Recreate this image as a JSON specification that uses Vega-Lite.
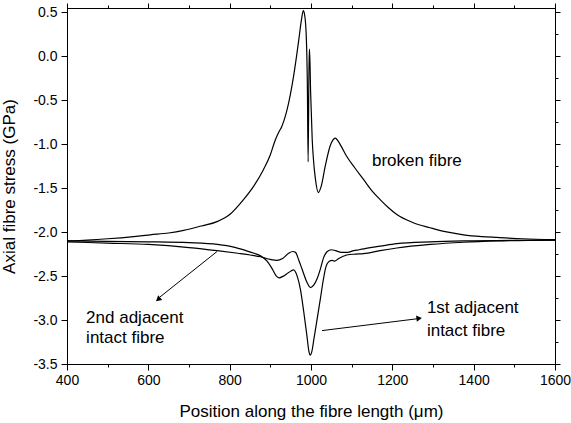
{
  "$schema": "https://vega.github.io/schema/vega-lite/v6.json",
  "autosize": {"type": "none"},
  "padding": {"left": 67, "top": 8, "right": 16, "bottom": 59},
  "width": 488,
  "height": 356,
  "background": "white",
  "config": {
    "font": "Liberation Sans",
    "view": {"stroke": "black", "strokeWidth": 1},
    "axis": {
      "grid": false,
      "domainColor": "black",
      "tickColor": "black",
      "labelColor": "black",
      "titleColor": "black",
      "labelFont": "Liberation Sans",
      "titleFont": "Liberation Sans",
      "labelFontSize": 14,
      "titleFontSize": 17,
      "titleFontWeight": "normal",
      "domainWidth": 1,
      "tickWidth": 1
    }
  },
  "datasets": {
    "curves": [
      {"series": "broken", "x": 400, "y": -2.1},
      {"series": "broken", "x": 450, "y": -2.09},
      {"series": "broken", "x": 500, "y": -2.075},
      {"series": "broken", "x": 564, "y": -2.05},
      {"series": "broken", "x": 605, "y": -2.03},
      {"series": "broken", "x": 650, "y": -2.01},
      {"series": "broken", "x": 687, "y": -1.98},
      {"series": "broken", "x": 730, "y": -1.93},
      {"series": "broken", "x": 769, "y": -1.88},
      {"series": "broken", "x": 800, "y": -1.8},
      {"series": "broken", "x": 834, "y": -1.63},
      {"series": "broken", "x": 860, "y": -1.47},
      {"series": "broken", "x": 883, "y": -1.29},
      {"series": "broken", "x": 900, "y": -1.12},
      {"series": "broken", "x": 910, "y": -0.98},
      {"series": "broken", "x": 916, "y": -0.91},
      {"series": "broken", "x": 921, "y": -0.86},
      {"series": "broken", "x": 928, "y": -0.8},
      {"series": "broken", "x": 941, "y": -0.61},
      {"series": "broken", "x": 957, "y": -0.23},
      {"series": "broken", "x": 965, "y": 0.02},
      {"series": "broken", "x": 970, "y": 0.19},
      {"series": "broken", "x": 976, "y": 0.4},
      {"series": "broken", "x": 981, "y": 0.52},
      {"series": "broken", "x": 984, "y": 0.48},
      {"series": "broken", "x": 988, "y": 0.27},
      {"series": "broken", "x": 991, "y": -0.3},
      {"series": "broken", "x": 993, "y": -1.2},
      {"series": "broken", "x": 995.5, "y": 0.08},
      {"series": "broken", "x": 996.5, "y": 0.08},
      {"series": "broken", "x": 999, "y": -0.4},
      {"series": "broken", "x": 1003, "y": -0.95},
      {"series": "broken", "x": 1006, "y": -1.17},
      {"series": "broken", "x": 1011, "y": -1.4},
      {"series": "broken", "x": 1018, "y": -1.55},
      {"series": "broken", "x": 1025, "y": -1.48},
      {"series": "broken", "x": 1035, "y": -1.25},
      {"series": "broken", "x": 1047, "y": -1.02},
      {"series": "broken", "x": 1054, "y": -0.95},
      {"series": "broken", "x": 1060, "y": -0.93},
      {"series": "broken", "x": 1066, "y": -0.96},
      {"series": "broken", "x": 1075, "y": -1.03},
      {"series": "broken", "x": 1088, "y": -1.14},
      {"series": "broken", "x": 1108, "y": -1.27},
      {"series": "broken", "x": 1129, "y": -1.4},
      {"series": "broken", "x": 1150, "y": -1.53},
      {"series": "broken", "x": 1170, "y": -1.63},
      {"series": "broken", "x": 1190, "y": -1.72},
      {"series": "broken", "x": 1211, "y": -1.8},
      {"series": "broken", "x": 1250, "y": -1.89},
      {"series": "broken", "x": 1293, "y": -1.95},
      {"series": "broken", "x": 1330, "y": -1.995},
      {"series": "broken", "x": 1375, "y": -2.03},
      {"series": "broken", "x": 1420, "y": -2.05},
      {"series": "broken", "x": 1457, "y": -2.06},
      {"series": "broken", "x": 1520, "y": -2.075},
      {"series": "broken", "x": 1600, "y": -2.085},

      {"series": "first", "x": 400, "y": -2.1},
      {"series": "first", "x": 500, "y": -2.105},
      {"series": "first", "x": 600, "y": -2.11},
      {"series": "first", "x": 700, "y": -2.12},
      {"series": "first", "x": 770, "y": -2.14},
      {"series": "first", "x": 810, "y": -2.17},
      {"series": "first", "x": 840, "y": -2.21},
      {"series": "first", "x": 860, "y": -2.24},
      {"series": "first", "x": 876, "y": -2.27},
      {"series": "first", "x": 892, "y": -2.33},
      {"series": "first", "x": 905, "y": -2.42},
      {"series": "first", "x": 915, "y": -2.5},
      {"series": "first", "x": 922, "y": -2.52},
      {"series": "first", "x": 932, "y": -2.5},
      {"series": "first", "x": 945, "y": -2.46},
      {"series": "first", "x": 957, "y": -2.43},
      {"series": "first", "x": 966, "y": -2.5},
      {"series": "first", "x": 974, "y": -2.65},
      {"series": "first", "x": 982, "y": -2.9},
      {"series": "first", "x": 990, "y": -3.18},
      {"series": "first", "x": 995, "y": -3.36},
      {"series": "first", "x": 998, "y": -3.4},
      {"series": "first", "x": 1002, "y": -3.36},
      {"series": "first", "x": 1007, "y": -3.22},
      {"series": "first", "x": 1013, "y": -3.05},
      {"series": "first", "x": 1023, "y": -2.76},
      {"series": "first", "x": 1030, "y": -2.55},
      {"series": "first", "x": 1037, "y": -2.39},
      {"series": "first", "x": 1045, "y": -2.33},
      {"series": "first", "x": 1052, "y": -2.32},
      {"series": "first", "x": 1058, "y": -2.33},
      {"series": "first", "x": 1068, "y": -2.3},
      {"series": "first", "x": 1088, "y": -2.26},
      {"series": "first", "x": 1110, "y": -2.25},
      {"series": "first", "x": 1129, "y": -2.245},
      {"series": "first", "x": 1170, "y": -2.21},
      {"series": "first", "x": 1211, "y": -2.18},
      {"series": "first", "x": 1293, "y": -2.14},
      {"series": "first", "x": 1375, "y": -2.115},
      {"series": "first", "x": 1457, "y": -2.1},
      {"series": "first", "x": 1600, "y": -2.09},

      {"series": "second", "x": 400, "y": -2.11},
      {"series": "second", "x": 500, "y": -2.125},
      {"series": "second", "x": 600, "y": -2.14},
      {"series": "second", "x": 700, "y": -2.175},
      {"series": "second", "x": 769, "y": -2.21},
      {"series": "second", "x": 820, "y": -2.24},
      {"series": "second", "x": 851, "y": -2.26},
      {"series": "second", "x": 876, "y": -2.28},
      {"series": "second", "x": 900, "y": -2.31},
      {"series": "second", "x": 916, "y": -2.32},
      {"series": "second", "x": 930, "y": -2.3},
      {"series": "second", "x": 945, "y": -2.24},
      {"series": "second", "x": 955, "y": -2.22},
      {"series": "second", "x": 962, "y": -2.23},
      {"series": "second", "x": 970, "y": -2.32},
      {"series": "second", "x": 978, "y": -2.42},
      {"series": "second", "x": 990, "y": -2.57},
      {"series": "second", "x": 999, "y": -2.63},
      {"series": "second", "x": 1007, "y": -2.6},
      {"series": "second", "x": 1015, "y": -2.53},
      {"series": "second", "x": 1023, "y": -2.42},
      {"series": "second", "x": 1031, "y": -2.29},
      {"series": "second", "x": 1040, "y": -2.22},
      {"series": "second", "x": 1050, "y": -2.2},
      {"series": "second", "x": 1060, "y": -2.21},
      {"series": "second", "x": 1075, "y": -2.23},
      {"series": "second", "x": 1090, "y": -2.23},
      {"series": "second", "x": 1105, "y": -2.21},
      {"series": "second", "x": 1118, "y": -2.2},
      {"series": "second", "x": 1130, "y": -2.19},
      {"series": "second", "x": 1170, "y": -2.16},
      {"series": "second", "x": 1211, "y": -2.13},
      {"series": "second", "x": 1293, "y": -2.11},
      {"series": "second", "x": 1375, "y": -2.1},
      {"series": "second", "x": 1600, "y": -2.09}
    ],
    "labels": [
      {"x": 1150, "y": -1.19, "text": "broken fibre"},
      {"x": 447, "y": -2.98, "text": "2nd adjacent"},
      {"x": 447, "y": -3.2, "text": "intact fibre"},
      {"x": 1285, "y": -2.86, "text": "1st adjacent"},
      {"x": 1285, "y": -3.12, "text": "intact fibre"}
    ],
    "arrows": [
      {"arrow": "first", "x": 1027, "y": -3.12},
      {"arrow": "first", "x": 1262, "y": -2.985},
      {"arrow": "second", "x": 769, "y": -2.22},
      {"arrow": "second", "x": 628, "y": -2.74}
    ]
  },
  "layer": [
    {
      "layer": [
        {
          "data": {"name": "curves"},
          "mark": {"type": "line", "color": "black", "strokeWidth": 1.2, "clip": true, "interpolate": "monotone"},
          "encoding": {
            "x": {
              "field": "x", "type": "quantitative",
              "scale": {"domain": [400, 1600], "nice": false, "zero": false},
              "axis": {
                "orient": "bottom",
                "title": "Position along the fibre length (\u03bcm)",
                "format": "d",
                "values": [400, 500, 600, 700, 800, 900, 1000, 1100, 1200, 1300, 1400, 1500, 1600],
                "labelExpr": "datum.value % 200 === 0 ? datum.label : ''",
                "tickSize": {"condition": {"test": "datum.value % 200 === 0", "value": 6}, "value": 3},
                "labelPadding": 3,
                "titlePadding": 16,
                "labelFlush": false
              }
            },
            "y": {
              "field": "y", "type": "quantitative",
              "scale": {"domain": [-3.5, 0.55], "nice": false, "zero": false},
              "axis": {
                "orient": "left",
                "title": "Axial fibre stress (GPa)",
                "values": [-3.5, -3.25, -3.0, -2.75, -2.5, -2.25, -2.0, -1.75, -1.5, -1.25, -1.0, -0.75, -0.5, -0.25, 0.0, 0.25, 0.5],
                "labelExpr": "abs(datum.value*2 - round(datum.value*2)) < 0.001 ? replace(format(datum.value, '.1f'), '\u2212', '-') : ''",
                "tickSize": {"condition": {"test": "abs(datum.value*2 - round(datum.value*2)) < 0.001", "value": 6}, "value": 3},
                "labelPadding": 4,
                "titlePadding": 14,
                "labelFlush": false
              }
            },
            "detail": {"field": "series"}
          }
        },
        {
          "data": {"name": "arrows"},
          "mark": {"type": "line", "color": "black", "strokeWidth": 1},
          "encoding": {
            "x": {"field": "x", "type": "quantitative"},
            "y": {"field": "y", "type": "quantitative"},
            "detail": {"field": "arrow"}
          }
        },
        {
          "data": {"values": [{"x": 1266, "y": -2.98}]},
          "mark": {"type": "point", "shape": "triangle-right", "filled": true, "color": "black", "size": 40, "angle": -7, "opacity": 1},
          "encoding": {
            "x": {"field": "x", "type": "quantitative"},
            "y": {"field": "y", "type": "quantitative"}
          }
        },
        {
          "data": {"values": [{"x": 624, "y": -2.765}]},
          "mark": {"type": "point", "shape": "triangle-right", "filled": true, "color": "black", "size": 40, "angle": 140, "opacity": 1},
          "encoding": {
            "x": {"field": "x", "type": "quantitative"},
            "y": {"field": "y", "type": "quantitative"}
          }
        },
        {
          "data": {"name": "labels"},
          "mark": {"type": "text", "align": "left", "baseline": "middle", "fontSize": 17, "font": "Liberation Sans", "color": "black"},
          "encoding": {
            "x": {"field": "x", "type": "quantitative"},
            "y": {"field": "y", "type": "quantitative"},
            "text": {"field": "text"}
          }
        }
      ]
    },
    {
      "data": {"values": [{"x": 400, "y": -3.5}]},
      "mark": {"type": "point", "opacity": 0},
      "encoding": {
        "x": {
          "field": "x", "type": "quantitative",
          "axis": {
            "orient": "top", "title": null, "labels": false,
            "values": [400, 500, 600, 700, 800, 900, 1000, 1100, 1200, 1300, 1400, 1500, 1600],
            "tickSize": {"condition": {"test": "datum.value % 200 === 0", "value": 5}, "value": 3}
          }
        },
        "y": {
          "field": "y", "type": "quantitative",
          "axis": {
            "orient": "right", "title": null, "labels": false,
            "values": [-3.5, -3.25, -3.0, -2.75, -2.5, -2.25, -2.0, -1.75, -1.5, -1.25, -1.0, -0.75, -0.5, -0.25, 0.0, 0.25, 0.5],
            "tickSize": {"condition": {"test": "abs(datum.value*2 - round(datum.value*2)) < 0.001", "value": 5}, "value": 3}
          }
        }
      }
    }
  ],
  "resolve": {"axis": {"x": "independent", "y": "independent"}}
}
